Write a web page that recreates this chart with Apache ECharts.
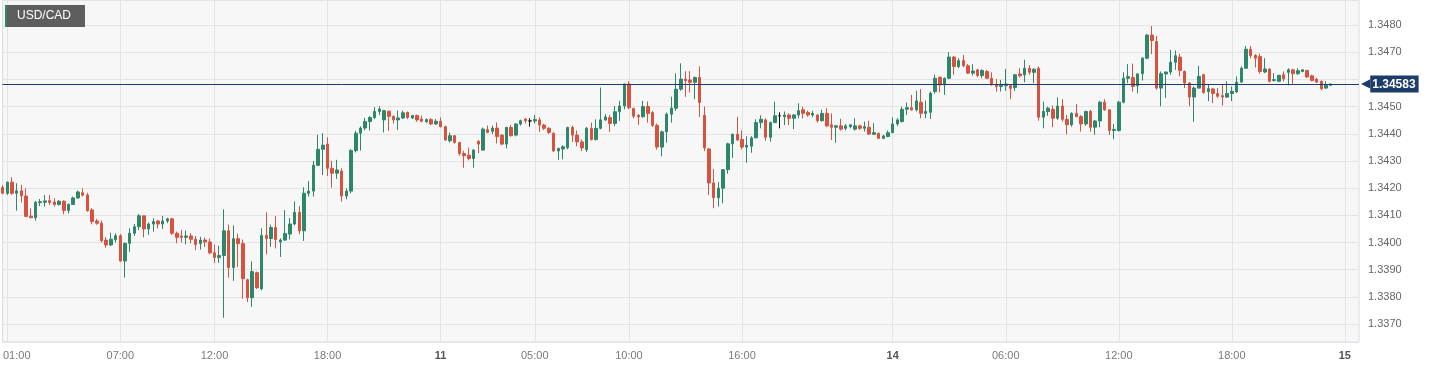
<!DOCTYPE html>
<html>
<head>
<meta charset="utf-8">
<script src="https://cdn.jsdelivr.net/npm/echarts@6/dist/echarts.min.js"></script>
<style>
html,body{margin:0;padding:0;background:#fff;}
#chart{width:1430px;height:368px;}
</style>
</head>
<body>
<div id="chart"></div>
<script>
// ---- data (15-minute candles, USD/CAD) ----
const sessions = [['2019-01-10T00:45:00Z', '2019-01-11T21:45:00Z'], ['2019-01-13T22:00:00Z', '2019-01-15T00:45:00Z']];

const opens = [
1.34203,1.34181,1.34222,1.34181,1.34190,1.34171,1.34097,1.34091,1.34147,1.34148,
1.34154,1.34149,1.34140,1.34152,1.34118,1.34140,1.34164,1.34183,1.34175,1.34120,
1.34079,1.34071,1.34009,1.33991,1.34010,1.34025,1.33932,1.33997,1.34034,1.34058,
1.34098,1.34050,1.34068,1.34079,1.34068,1.34079,1.34087,1.34034,1.34024,1.34019,
1.34024,1.34012,1.33996,1.34009,1.34002,1.33962,1.33945,1.33952,1.34043,1.33908,
1.34014,1.33996,1.33863,1.33797,1.33889,1.33830,1.34026,1.34015,1.34055,1.34002,
1.34009,1.34031,1.34068,1.34111,1.34043,1.34181,1.34189,1.34284,1.34343,1.34362,
1.34273,1.34255,1.34263,1.34171,1.34189,1.34338,1.34402,1.34421,1.34445,1.34460,
1.34482,1.34451,1.34483,1.34464,1.34451,1.34458,1.34479,1.34458,1.34467,1.34454,
1.34444,1.34452,1.34436,1.34446,1.34426,1.34374,1.34393,1.34368,1.34327,1.34321,
1.34309,1.34372,1.34340,1.34415,1.34409,1.34421,1.34395,1.34362,1.34423,1.34395,
1.34436,1.34454,1.34447,1.34447,1.34451,1.34432,1.34420,1.34402,1.34337,1.34344,
1.34349,1.34423,1.34395,1.34370,1.34342,1.34420,1.34379,1.34420,1.34451,1.34459,
1.34438,1.34481,1.34502,1.34583,1.34493,1.34468,1.34463,1.34500,1.34478,1.34431,
1.34351,1.34407,1.34472,1.34494,1.34564,1.34601,1.34598,1.34589,1.34607,1.34468,
1.34344,1.34219,1.34165,1.34200,1.34268,1.34363,1.34398,1.34379,1.34351,1.34354,
1.34385,1.34441,1.34451,1.34387,1.34441,1.34466,1.34463,1.34469,1.34457,1.34469,
1.34488,1.34478,1.34469,1.34469,1.34448,1.34475,1.34433,1.34424,1.34429,1.34420,
1.34426,1.34417,1.34429,1.34420,1.34424,1.34398,1.34402,1.34383,1.34390,1.34404,
1.34436,1.34445,1.34490,1.34496,1.34488,1.34516,1.34475,1.34479,1.34555,1.34608,
1.34580,1.34604,1.34682,1.34647,1.34669,1.34650,1.34623,1.34635,1.34614,1.34629,
1.34604,1.34580,1.34574,1.34577,1.34577,1.34570,1.34620,1.34617,1.34641,1.34626,
1.34641,1.34461,1.34482,1.34490,1.34457,1.34502,1.34453,1.34433,1.34475,1.34463,
1.34436,1.34482,1.34424,1.34447,1.34516,1.34488,1.34412,1.34412,1.34516,1.34604,
1.34607,1.34577,1.34621,1.34678,1.34763,1.34739,1.34568,1.34620,1.34627,1.34663,
1.34682,1.34629,1.34587,1.34535,1.34568,1.34617,1.34555,1.34565,1.34548,1.34540,
1.34535,1.34548,1.34554,1.34590,1.34641,1.34711,1.34688,1.34684,1.34627,1.34638,
1.34596,1.34593,1.34617,1.34626,1.34635,1.34621,1.34629,1.34633,1.34613,1.34601,
1.34593,1.34568,1.34578];

const closes = [
1.34181,1.34222,1.34181,1.34190,1.34172,1.34096,1.34091,1.34148,1.34150,1.34153,
1.34147,1.34140,1.34152,1.34118,1.34140,1.34164,1.34186,1.34174,1.34117,1.34077,
1.34071,1.34007,1.33991,1.34012,1.34025,1.33932,1.33997,1.34034,1.34058,1.34098,
1.34050,1.34068,1.34077,1.34068,1.34079,1.34087,1.34034,1.34019,1.34019,1.34024,
1.34012,1.33993,1.34009,1.34002,1.33962,1.33945,1.33952,1.34043,1.33908,1.34014,
1.33996,1.33867,1.33797,1.33893,1.33834,1.34026,1.34015,1.34055,1.34011,1.34009,
1.34033,1.34068,1.34111,1.34043,1.34181,1.34189,1.34284,1.34343,1.34358,1.34273,
1.34255,1.34267,1.34171,1.34189,1.34338,1.34402,1.34421,1.34445,1.34460,1.34482,
1.34491,1.34485,1.34464,1.34451,1.34458,1.34477,1.34460,1.34467,1.34451,1.34446,
1.34452,1.34436,1.34446,1.34426,1.34377,1.34393,1.34368,1.34327,1.34319,1.34309,
1.34340,1.34362,1.34417,1.34405,1.34421,1.34390,1.34362,1.34423,1.34393,1.34436,
1.34448,1.34448,1.34447,1.34452,1.34432,1.34420,1.34405,1.34337,1.34346,1.34352,
1.34423,1.34395,1.34370,1.34348,1.34420,1.34379,1.34420,1.34451,1.34462,1.34438,
1.34481,1.34502,1.34583,1.34496,1.34465,1.34462,1.34500,1.34475,1.34431,1.34351,
1.34407,1.34472,1.34494,1.34564,1.34601,1.34595,1.34589,1.34607,1.34515,1.34348,
1.34219,1.34165,1.34200,1.34268,1.34363,1.34398,1.34377,1.34351,1.34358,1.34385,
1.34441,1.34453,1.34387,1.34441,1.34466,1.34466,1.34469,1.34457,1.34469,1.34485,
1.34475,1.34469,1.34475,1.34448,1.34475,1.34429,1.34424,1.34429,1.34417,1.34429,
1.34433,1.34429,1.34420,1.34426,1.34399,1.34404,1.34383,1.34392,1.34404,1.34436,
1.34451,1.34490,1.34496,1.34488,1.34521,1.34475,1.34482,1.34549,1.34604,1.34580,
1.34604,1.34682,1.34647,1.34669,1.34650,1.34623,1.34631,1.34614,1.34633,1.34604,
1.34580,1.34574,1.34580,1.34583,1.34567,1.34617,1.34613,1.34641,1.34626,1.34637,
1.34461,1.34482,1.34494,1.34457,1.34502,1.34453,1.34433,1.34475,1.34463,1.34436,
1.34482,1.34424,1.34447,1.34516,1.34488,1.34412,1.34416,1.34516,1.34604,1.34610,
1.34574,1.34620,1.34678,1.34763,1.34743,1.34568,1.34621,1.34627,1.34663,1.34687,
1.34633,1.34587,1.34535,1.34568,1.34611,1.34552,1.34566,1.34548,1.34538,1.34535,
1.34548,1.34556,1.34590,1.34641,1.34711,1.34688,1.34678,1.34629,1.34638,1.34593,
1.34599,1.34615,1.34602,1.34635,1.34621,1.34632,1.34635,1.34609,1.34596,1.34590,
1.34566,1.34578,1.34583];

const lows = [
1.34178,1.34175,1.34175,1.34117,1.34147,1.34094,1.34091,1.34080,1.34134,1.34132,
1.34138,1.34132,1.34136,1.34104,1.34107,1.34138,1.34161,1.34169,1.34113,1.34067,
1.34065,1.34000,1.33981,1.33987,1.34000,1.33929,1.33871,1.33966,1.34024,1.34046,
1.34019,1.34028,1.34040,1.34052,1.34050,1.34071,1.34028,1.33997,1.34000,1.33993,
1.33997,1.33972,1.33974,1.33984,1.33957,1.33925,1.33925,1.33723,1.33871,1.33859,
1.33910,1.33793,1.33781,1.33763,1.33829,1.33824,1.33957,1.33984,1.33978,1.33947,
1.34006,1.34011,1.34063,1.34031,1.34006,1.34169,1.34169,1.34282,1.34248,1.34245,
1.34202,1.34234,1.34150,1.34159,1.34181,1.34331,1.34338,1.34412,1.34412,1.34454,
1.34469,1.34405,1.34411,1.34438,1.34414,1.34454,1.34454,1.34454,1.34444,1.34442,
1.34440,1.34432,1.34432,1.34423,1.34374,1.34368,1.34364,1.34319,1.34275,1.34302,
1.34275,1.34329,1.34337,1.34402,1.34399,1.34364,1.34358,1.34346,1.34389,1.34390,
1.34430,1.34438,1.34426,1.34438,1.34407,1.34414,1.34399,1.34333,1.34304,1.34306,
1.34343,1.34370,1.34354,1.34336,1.34333,1.34375,1.34375,1.34416,1.34447,1.34407,
1.34428,1.34447,1.34490,1.34490,1.34457,1.34432,1.34459,1.34441,1.34425,1.34342,
1.34317,1.34367,1.34441,1.34484,1.34558,1.34536,1.34552,1.34527,1.34462,1.34336,
1.34175,1.34126,1.34132,1.34144,1.34253,1.34311,1.34373,1.34342,1.34293,1.34330,
1.34383,1.34420,1.34374,1.34371,1.34439,1.34420,1.34432,1.34432,1.34417,1.34457,
1.34457,1.34463,1.34461,1.34441,1.34445,1.34424,1.34377,1.34367,1.34412,1.34412,
1.34420,1.34412,1.34414,1.34408,1.34396,1.34396,1.34381,1.34381,1.34387,1.34402,
1.34429,1.34441,1.34469,1.34485,1.34482,1.34457,1.34457,1.34454,1.34547,1.34552,
1.34543,1.34601,1.34617,1.34641,1.34645,1.34620,1.34614,1.34608,1.34604,1.34601,
1.34577,1.34555,1.34555,1.34558,1.34527,1.34558,1.34607,1.34589,1.34617,1.34586,
1.34448,1.34420,1.34466,1.34424,1.34451,1.34445,1.34398,1.34426,1.34461,1.34408,
1.34429,1.34408,1.34396,1.34424,1.34484,1.34396,1.34380,1.34408,1.34512,1.34586,
1.34555,1.34549,1.34596,1.34674,1.34693,1.34562,1.34501,1.34532,1.34617,1.34635,
1.34611,1.34568,1.34501,1.34444,1.34566,1.34548,1.34520,1.34513,1.34532,1.34504,
1.34532,1.34520,1.34550,1.34587,1.34639,1.34678,1.34644,1.34621,1.34623,1.34589,
1.34592,1.34590,1.34593,1.34578,1.34584,1.34617,1.34626,1.34605,1.34593,1.34587,
1.34560,1.34566,1.34575];

const highs = [
1.34210,1.34224,1.34240,1.34218,1.34212,1.34199,1.34126,1.34153,1.34160,1.34175,
1.34175,1.34163,1.34156,1.34155,1.34144,1.34169,1.34191,1.34199,1.34183,1.34126,
1.34087,1.34081,1.34019,1.34036,1.34034,1.34031,1.34000,1.34052,1.34068,1.34105,
1.34100,1.34073,1.34089,1.34083,1.34098,1.34091,1.34091,1.34040,1.34046,1.34044,
1.34034,1.34024,1.34021,1.34018,1.34015,1.33993,1.33988,1.34122,1.34066,1.34063,
1.34033,1.34011,1.33867,1.33930,1.33893,1.34052,1.34111,1.34066,1.34097,1.34015,
1.34119,1.34090,1.34151,1.34134,1.34203,1.34226,1.34300,1.34396,1.34402,1.34387,
1.34300,1.34304,1.34273,1.34199,1.34343,1.34411,1.34427,1.34458,1.34464,1.34498,
1.34501,1.34488,1.34485,1.34467,1.34485,1.34485,1.34481,1.34469,1.34470,1.34467,
1.34457,1.34458,1.34454,1.34460,1.34430,1.34405,1.34395,1.34370,1.34337,1.34349,
1.34343,1.34377,1.34423,1.34430,1.34430,1.34442,1.34399,1.34426,1.34432,1.34438,
1.34452,1.34457,1.34457,1.34469,1.34460,1.34436,1.34424,1.34405,1.34349,1.34358,
1.34426,1.34430,1.34412,1.34379,1.34425,1.34441,1.34453,1.34570,1.34472,1.34468,
1.34502,1.34521,1.34585,1.34593,1.34496,1.34472,1.34521,1.34519,1.34484,1.34437,
1.34412,1.34478,1.34536,1.34622,1.34659,1.34630,1.34630,1.34610,1.34648,1.34500,
1.34348,1.34270,1.34222,1.34270,1.34367,1.34401,1.34462,1.34412,1.34391,1.34391,
1.34453,1.34468,1.34457,1.34445,1.34518,1.34479,1.34482,1.34475,1.34472,1.34512,
1.34500,1.34485,1.34484,1.34472,1.34488,1.34494,1.34475,1.34433,1.34455,1.34436,
1.34436,1.34457,1.34433,1.34445,1.34448,1.34439,1.34404,1.34396,1.34412,1.34460,
1.34457,1.34500,1.34515,1.34543,1.34558,1.34564,1.34522,1.34555,1.34617,1.34610,
1.34607,1.34700,1.34686,1.34678,1.34690,1.34657,1.34656,1.34639,1.34637,1.34635,
1.34626,1.34601,1.34598,1.34638,1.34580,1.34620,1.34641,1.34672,1.34653,1.34641,
1.34647,1.34518,1.34500,1.34504,1.34534,1.34527,1.34469,1.34479,1.34509,1.34469,
1.34485,1.34488,1.34451,1.34521,1.34527,1.34490,1.34436,1.34521,1.34626,1.34656,
1.34658,1.34623,1.34682,1.34766,1.34796,1.34760,1.34629,1.34629,1.34709,1.34707,
1.34694,1.34633,1.34589,1.34574,1.34650,1.34621,1.34580,1.34568,1.34568,1.34580,
1.34593,1.34574,1.34611,1.34648,1.34723,1.34723,1.34693,1.34694,1.34678,1.34641,
1.34623,1.34617,1.34629,1.34641,1.34639,1.34641,1.34638,1.34635,1.34617,1.34605,
1.34596,1.34593,1.34585];

const tickCats  = ['01-10 01:00','01-10 07:00','01-10 12:00','01-10 18:00','01-11 00:00','01-11 05:00','01-11 10:00','01-11 16:00','01-14 00:00','01-14 06:00','01-14 12:00','01-14 18:00','01-15 00:00'];
const tickTexts = ['01:00','07:00','12:00','18:00','11','05:00','10:00','16:00','14','06:00','12:00','18:00','15'];
const boldTicks = ['11','14','15'];
const yTicks = [1.3370,1.3380,1.3390,1.3400,1.3410,1.3420,1.3430,1.3440,1.3450,1.3470,1.3480];

// ---- build categories ----
function pad(n){return (n<10?'0':'')+n;}
const categories = [];
sessions.forEach(function(s){
  let t = Date.parse(s[0]); const end = Date.parse(s[1]);
  while (t <= end) {
    const d = new Date(t);
    categories.push(pad(d.getUTCMonth()+1)+'-'+pad(d.getUTCDate())+' '+pad(d.getUTCHours())+':'+pad(d.getUTCMinutes()));
    t += 15*60*1000;
  }
});
const candles = opens.map(function(o,i){return [o, closes[i], lows[i], highs[i]];});
const lastClose = closes[closes.length-1];

const UP='#2e866b', DOWN='#d6533f', NAVY='#1d3c6a';
const FONT='Liberation Sans, Arial, sans-serif';

const chart = echarts.init(document.getElementById('chart'));
chart.setOption({
  animation:false,
  backgroundColor:'#ffffff',
  title:{
    left:5, top:5, padding:0,
    text:'{s|}{t|USD/CAD}',
    textStyle:{fontWeight:'normal', rich:{
      s:{backgroundColor:UP, width:2, height:22},
      t:{backgroundColor:'#5e5e5e', color:'#ffffff', fontSize:12, fontWeight:'normal', fontFamily:FONT, height:22, lineHeight:22, padding:[0,14,0,10]}
    }}
  },
  grid:{left:0, top:0, width:1359, height:342, show:true, backgroundColor:'#f7f7f7', borderColor:'#d6dce9', borderWidth:1},
  xAxis:{
    type:'category', data:categories, boundaryGap:false,
    axisLine:{show:false}, axisTick:{show:false},
    splitLine:{show:true, interval:function(i,v){return tickCats.indexOf(v)>=0;}, lineStyle:{color:'#e4e4e4', width:1}},
    axisLabel:{
      interval:function(i,v){return tickCats.indexOf(v)>=0;},
      margin:8, color:'#7a7a7a', fontSize:11, fontFamily:FONT,
      formatter:function(v){
        const k=tickCats.indexOf(v); if(k<0) return '';
        const t=tickTexts[k];
        if(boldTicks.indexOf(t)>=0) return '{b|'+t+'}';
        if(k===0) return '{f|'+t+'}';
        return t;
      },
      rich:{
        b:{fontWeight:'bold', color:'#555555', fontSize:11, fontFamily:FONT},
        f:{padding:[0,0,0,19], color:'#7a7a7a', fontSize:11, fontFamily:FONT}
      }
    }
  },
  yAxis:{
    type:'value', position:'right', scale:true,
    min:1.33634, max:1.34892, splitNumber:12, minInterval:0.001, maxInterval:0.001,
    axisLine:{show:false}, axisTick:{show:false},
    splitLine:{show:true, lineStyle:{color:'#e4e4e4', width:1}},
    axisLabel:{
      showMinLabel:false, showMaxLabel:false, margin:9,
      color:'#666666', fontSize:11, fontFamily:FONT,
      formatter:function(v){
        for(let k=0;k<yTicks.length;k++){ if(Math.abs(yTicks[k]-v)<1e-7) return yTicks[k].toFixed(4); }
        return '';
      }
    }
  },
  series:[{
    type:'candlestick',
    data:candles,
    barWidth:3,
    clip:false,
    itemStyle:{color:UP, color0:DOWN, borderColor:UP, borderColor0:DOWN, borderColorDoji:'#111111', borderWidth:1},
    markLine:{
      symbol:['none','none'],
      data:[[
        {coord:[categories[0], lastClose]},
        {coord:[categories[categories.length-1], lastClose]}
      ]],
      lineStyle:{color:NAVY, width:1, type:'solid'},
      label:{
        show:true, position:'end', distance:2,
        formatter:'{a|◀}{b|'+lastClose.toFixed(5)+'}',
        rich:{
          a:{color:NAVY, fontSize:12, fontFamily:'DejaVu Sans'},
          b:{backgroundColor:NAVY, color:'#ffffff', fontWeight:'bold', fontSize:12, fontFamily:FONT, padding:[3,3,2,2]}
        }
      }
    }
  }]
});
</script>
</body>
</html>
